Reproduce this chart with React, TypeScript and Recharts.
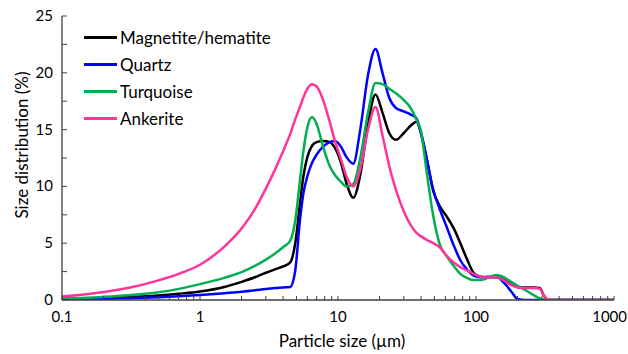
import React from 'react';
import { LineChart, Line, XAxis, YAxis } from 'recharts';

// particle size grid (µm)
const sizes = [
  0.1, 0.15, 0.2, 0.3, 0.5, 0.7, 1, 1.5, 2, 2.5, 3, 3.5, 4, 4.5, 4.9, 5.3, 5.6, 6.0, 6.5, 7.0,
  7.8, 8.7, 9.5, 10.5, 11.5, 12.9, 14.5, 16.5, 18.7, 21, 23.5, 26.3, 30, 34, 37, 40, 44, 49, 55, 61,
  69, 77, 86, 96, 108, 122, 140, 160, 180, 200, 230, 260, 290, 310, 335, 400, 600, 1000,
];

const magnetite = [
  0.1, 0.13, 0.17, 0.25, 0.4, 0.55, 0.75, 1.15, 1.6, 2.0, 2.4, 2.7, 2.95, 3.3, 5.0, 8.5, 10.8, 12.6, 13.6, 13.9,
  14.0, 13.9, 13.4, 12.1, 10.3, 9.0, 11.0, 15.5, 18.1, 16.5, 14.7, 14.1, 14.7, 15.4, 15.7, 14.7, 12.4, 9.6, 8.2, 7.4,
  6.3, 5.0, 3.6, 2.4, 2.05, 2.0, 2.0, 1.75, 1.35, 1.15, 1.1, 1.1, 1.05, 0.4, 0, 0, 0, 0,
];

const quartz = [
  0.06, 0.08, 0.1, 0.15, 0.25, 0.33, 0.44, 0.6, 0.72, 0.85, 0.97, 1.05, 1.1, 1.15, 2.6, 7.0, 9.3, 10.9, 12.1, 12.8,
  13.5, 13.9, 14.0, 13.5, 12.6, 12.0, 15.0, 19.8, 22.1, 20.0, 17.8, 16.9, 16.6, 16.3, 16.0, 14.6, 12.4, 9.7, 7.9, 6.5,
  4.8, 3.5, 2.7, 2.15, 2.0, 2.05, 2.05, 1.5, 0.75, 0.1, 0, 0, 0, 0, 0, 0, 0, 0,
];

const turquoise = [
  0.15, 0.2, 0.28, 0.42, 0.68, 0.98, 1.4, 1.95, 2.45, 3.0, 3.55, 4.1, 4.65, 5.2, 7.0, 10.5, 13.0, 15.2, 16.1, 15.5,
  13.5, 11.8, 11.0, 10.4, 10.0, 10.2, 12.5, 16.5, 19.1, 19.0, 18.6, 18.2, 17.6, 16.8, 15.9, 14.8, 11.2, 7.4, 4.8, 3.9,
  3.0, 2.3, 1.95, 1.75, 1.75, 1.95, 2.2, 2.0, 1.6, 1.25, 0.85, 0.45, 0.15, 0.05, 0, 0, 0, 0,
];

const ankerite = [
  0.3, 0.5, 0.7, 1.05, 1.73, 2.3, 3.1, 4.7, 6.3, 8.0, 9.8, 11.5, 13.1, 14.6, 15.9, 17.0, 17.8, 18.6, 19.0, 18.8,
  17.6, 15.7, 14.0, 12.4, 10.9, 10.0, 11.5, 15.0, 17.0, 14.5, 11.8, 9.7, 7.8, 6.5, 5.9, 5.6, 5.3, 5.0, 4.6, 3.9,
  3.3, 2.9, 2.6, 2.3, 2.05, 2.0, 2.0, 1.7, 1.3, 1.1, 1.05, 1.05, 1.0, 0.4, 0, 0, 0, 0,
];

const seriesNames = ['Magnetite/hematite', 'Quartz', 'Turquoise', 'Ankerite'];
const seriesKeys = ['magnetite', 'quartz', 'turquoise', 'ankerite'];
const COLORS = ['#000000', '#0000ff', '#00b050', '#ff3399'];

const xTicks = [
  0.1, 0.2, 0.3, 0.4, 0.5, 0.6, 0.7, 0.8, 0.9,
  1, 2, 3, 4, 5, 6, 7, 8, 9,
  10, 20, 30, 40, 50, 60, 70, 80, 90,
  100, 200, 300, 400, 500, 600, 700, 800, 900, 1000,
];
const xLabels = [0.1, 1, 10, 100, 1000];
const yTicks = [0, 2.5, 5, 7.5, 10, 12.5, 15, 17.5, 20, 22.5, 25];

const data = sizes.map((s, i) => ({
  size: s,
  magnetite: magnetite[i],
  quartz: quartz[i],
  turquoise: turquoise[i],
  ankerite: ankerite[i],
}));

const AXIS = '#404040';
const FONT = 'Lato, "Open Sans", sans-serif';

const XTick = (props: any) => {
  const { x, y, payload } = props;
  const v = payload.value;
  const isLabel = xLabels.some(l => Math.abs(l - v) < 1e-9);
  // last label sits against the right edge, like the original
  const last = v >= 1000;
  return (
    <g>
      <line x1={x} x2={x} y1={y} y2={y - 4} stroke={AXIS} strokeWidth={1} />
      {isLabel && (
        <text
          x={last ? 627 : x}
          y={y + 22}
          textAnchor={last ? 'end' : 'middle'}
          fontSize={15}
          fill="#000"
          fontFamily={FONT}
        >
          {String(v)}
        </text>
      )}
    </g>
  );
};

const YTick = (props: any) => {
  const { x, y, payload } = props;
  const v = payload.value;
  return (
    <g>
      <line x1={x} x2={x + 5} y1={y} y2={y} stroke={AXIS} strokeWidth={1} />
      {v % 5 === 0 && (
        <text x={x - 9} y={y + 5} textAnchor="end" fontSize={15} fill="#000" fontFamily={FONT}>
          {String(v)}
        </text>
      )}
    </g>
  );
};

export default function App() {
  return (
    <div style={{ position: 'absolute', left: 0, top: 0, width: 628, height: 354, background: '#fff', fontFamily: FONT }}>
      <LineChart width={628} height={354} data={data} margin={{ top: 16, right: 14, bottom: 24, left: 0 }}>
        <XAxis
          dataKey="size"
          type="number"
          scale="log"
          domain={[0.1, 1000]}
          ticks={xTicks}
          interval={0}
          height={30}
          stroke={AXIS}
          strokeWidth={1.3}
          tickLine={false}
          tickSize={0}
          tickMargin={0}
          tick={<XTick />}
          allowDataOverflow
        />
        <YAxis
          type="number"
          domain={[0, 25]}
          ticks={yTicks}
          interval={0}
          width={62}
          stroke={AXIS}
          strokeWidth={1.3}
          tickLine={false}
          tickSize={0}
          tickMargin={0}
          tick={<YTick />}
          allowDataOverflow
        />
        {seriesKeys.map((k, i) => (
          <Line
            key={k}
            dataKey={k}
            name={seriesNames[i]}
            type="monotone"
            stroke={COLORS[i]}
            strokeWidth={2.5}
            dot={false}
            activeDot={false}
            isAnimationActive={false}
          />
        ))}
      </LineChart>
      <div style={{ position: 'absolute', left: 84, top: 24, fontSize: 17, color: '#000' }}>
        {seriesNames.map((n, i) => (
          <div key={n} style={{ display: 'flex', alignItems: 'center', height: 27 }}>
            <div style={{ width: 33, height: 3, background: COLORS[i], marginRight: 3 }} />
            <span style={{ lineHeight: '27px', whiteSpace: 'nowrap' }}>{n}</span>
          </div>
        ))}
      </div>
      <div
        style={{
          position: 'absolute', left: 21, top: 145, transform: 'translate(-50%, -50%) rotate(-90deg)',
          whiteSpace: 'nowrap', fontSize: 17, color: '#000',
        }}
      >
        Size distribution (%)
      </div>
      <div
        style={{
          position: 'absolute', left: 342, top: 340, transform: 'translate(-50%, -50%)',
          whiteSpace: 'nowrap', fontSize: 17, color: '#000',
        }}
      >
        Particle size (µm)
      </div>
    </div>
  );
}
